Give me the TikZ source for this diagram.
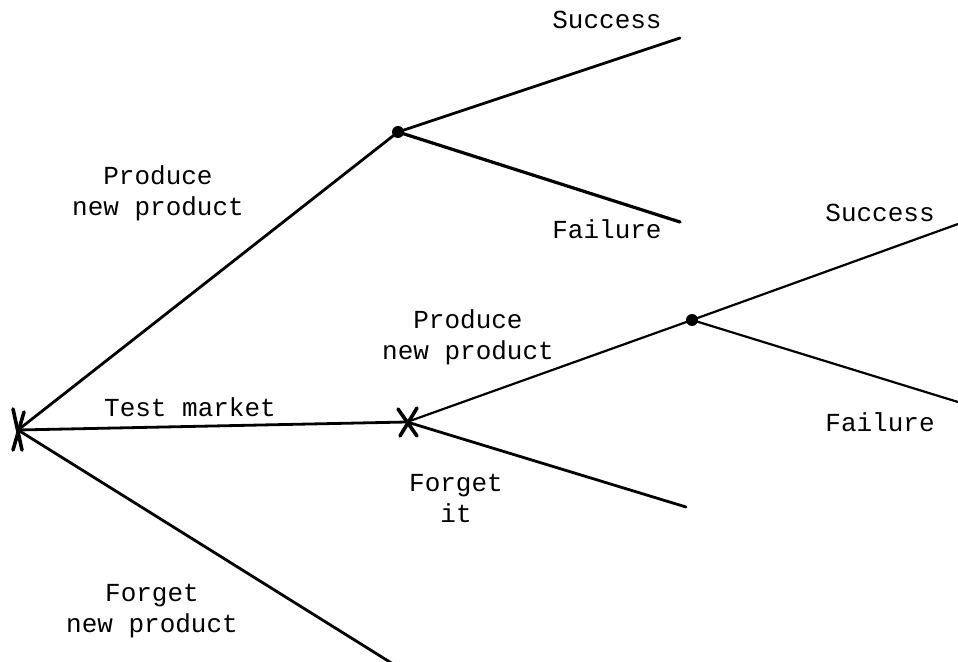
\documentclass[tikz,border=0pt]{standalone}
\usepackage{fontspec}
\setmonofont{Liberation Mono}
\usepackage{tikz}
\usetikzlibrary{calc}

\tikzset{
  branch/.style={line width=1.4pt, line cap=round},
  lbl/.style={font=\ttfamily\fontsize{13}{15.5}\selectfont, align=center, inner sep=0pt},
  chance/.style={fill=black},
}

\begin{document}
\begin{tikzpicture}[x=0.5pt, y=-0.5pt]
    \useasboundingbox (0,0) rectangle (958,662);

    % decision points and chance points
    \coordinate (root) at (18,430);
    \coordinate (test) at (407,422);
    \coordinate (topc) at (398,132);
    \coordinate (midc) at (692,320);

    % branch ends
    \coordinate (topS) at (680,38);
    \coordinate (topF) at (680,222);
    \coordinate (midS) at (958,224);
    \coordinate (midF) at (958,402);
    \coordinate (forgetit) at (686,507);
    \coordinate (forgetnew) at (393,664);

    % branches
    \draw[branch] (root) -- (topc);
    \draw[branch] (topc) -- (topS);
    \draw[branch, line width=1.6pt] (topc) -- (topF);
    \draw[branch] (root) -- (test);
    \draw[branch] (root) -- (forgetnew);
    \draw[branch, line width=1.1pt] (test) -- (midc);
    \draw[branch, line width=1.1pt] (midc) -- (midS);
    \draw[branch, line width=1.1pt] (midc) -- (midF);
    \draw[branch] (test) -- (forgetit);

    % crosses at decision points
    \draw[branch, line width=1.8pt] ($(root)+(-5,-21)$) -- ($(root)+(4,20)$);
    \draw[branch, line width=1.8pt] ($(root)+(6,-18)$) -- ($(root)+(-5,20)$);
    \draw[branch, line width=1.8pt] ($(test)+(-9,-13)$) -- ($(test)+(10,14)$);
    \draw[branch, line width=1.8pt] ($(test)+(10,-14)$) -- ($(test)+(-7,14)$);

    % chance dots
    \fill[chance] (topc) circle (6);
    \fill[chance] (midc) circle (6);

    % labels
    \node[lbl] (lsuc1) at (607,20) {Success};
    \node[lbl] (lfai1) at (607,229) {Failure};
    \node[lbl] (lprod1) at (158,193) {Produce\\new product};
    \node[lbl] (lsuc2) at (880,213) {Success};
    \node[lbl] (lfai2) at (880,422) {Failure};
    \node[lbl] (lprod2) at (468,337) {Produce\\new product};
    \node[lbl] (ltest) at (190,407) {Test market};
    \node[lbl] (lforit) at (456,498) {Forget\\it};
    \node[lbl] (lfornew) at (152,611) {Forget\\new product};
\end{tikzpicture}
\end{document}
